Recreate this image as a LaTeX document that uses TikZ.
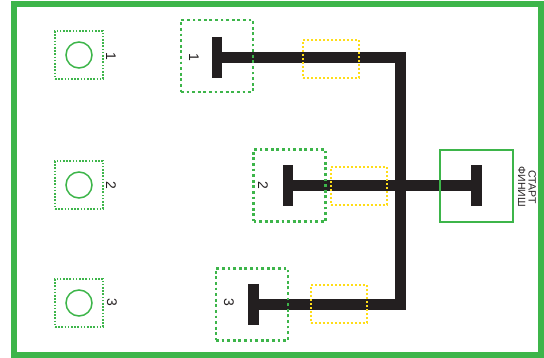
\documentclass[tikz,border=0pt]{standalone}
\usepackage{fontspec}
\setmainfont{Liberation Sans}
\usetikzlibrary{positioning,calc}
\definecolor{fieldgreen}{HTML}{3DB54A}
\definecolor{bufyellow}{HTML}{FFDD17}
\definecolor{trackblack}{HTML}{231F20}

\begin{document}
\begin{tikzpicture}[
    x=1pt,y=-1pt,
    frame/.style  = {draw=fieldgreen,line width=6pt},
    pad/.style    = {rectangle,draw=fieldgreen,line width=1.6pt,dash pattern=on 1.6pt off 1.6pt,
                     minimum width=48pt,minimum height=48pt,inner sep=0pt},
    ring/.style   = {circle,draw=fieldgreen,line width=1.5pt,minimum size=26pt,inner sep=0pt},
    zone/.style   = {rectangle,draw=fieldgreen,line width=2.8pt,dash pattern=on 2.8pt off 2.8pt,
                     minimum width=72pt,minimum height=72pt,inner sep=0pt},
    buf/.style    = {rectangle,draw=bufyellow,line width=2pt,dash pattern=on 2pt off 2pt,
                     minimum width=56pt,minimum height=38pt,inner sep=0pt},
    base/.style   = {rectangle,draw=fieldgreen,line width=2pt,
                     minimum width=73pt,minimum height=72pt,inner sep=0pt},
    track/.style  = {draw=trackblack,line width=11pt,line join=miter},
    lab/.style    = {font=\fontsize{14}{15}\selectfont,text=trackblack,rotate=-90,
                     align=center,inner sep=0pt},
  ]
  \useasboundingbox (0,0) rectangle (544,358);
  \draw[frame] (14,4) rectangle (541,355);

  % Площадки слева
  \node[pad]  (padA) at (79,55)  {};
  \node[pad]  (padB) at (79,185) {};
  \node[pad]  (padC) at (79,303) {};
  \node[ring] (ringA) at (padA.center) {};
  \node[ring] (ringB) at (padB.center) {};
  \node[ring] (ringC) at (padC.center) {};
  \node[lab]  (padAl) at (111,56)  {1};
  \node[lab]  (padBl) at (111,185) {2};
  \node[lab]  (padCl) at (112,302) {3};

  % Зоны и трасса
  \node[zone] (zoneA) at (217,56)     {};
  \node[zone] (zoneB) at (289.5,185.5){};
  \node[zone] (zoneC) at (252,304.5)  {};
  \node[base] (start) at (476.5,186)  {};

  \coordinate (cornA) at (400.5,57.5);
  \coordinate (cornC) at (400.5,304.5);
  \coordinate (capA)  at (217,57.5);
  \coordinate (capB)  at (288,186);
  \coordinate (capC)  at (253.5,304.5);
  \coordinate (capS)  at (start.center);

  \draw[track] (capA) -- (cornA) -- (cornC) -- (capC);
  \draw[track] (capB) -- (capS);
  \foreach \c in {capA,capB,capC,capS}
    \draw[track,line width=10.5pt] ($(\c)+(0,-20.5)$) -- ($(\c)+(0,20.5)$);

  \node[buf] (bufA) at (331,59)      {};
  \node[buf] (bufB) at (358.5,186)   {};
  \node[buf] (bufC) at (338.5,304.5) {};
  % перерисовать рамки поверх трассы
  \node[zone] at (zoneA.center) {};
  \node[zone] at (zoneB.center) {};
  \node[zone] at (zoneC.center) {};
  \node[base] at (start.center) {};

  \node[lab] (zoneAl) at (194,57)  {1};
  \node[lab] (zoneBl) at (263,185) {2};
  \node[lab] (zoneCl) at (229,302) {3};
  \node[lab,font=\fontsize{10.5}{10.5}\selectfont] (startl) at (527,187) {СТАРТ\\ФИНИШ};

\end{tikzpicture}
\end{document}
